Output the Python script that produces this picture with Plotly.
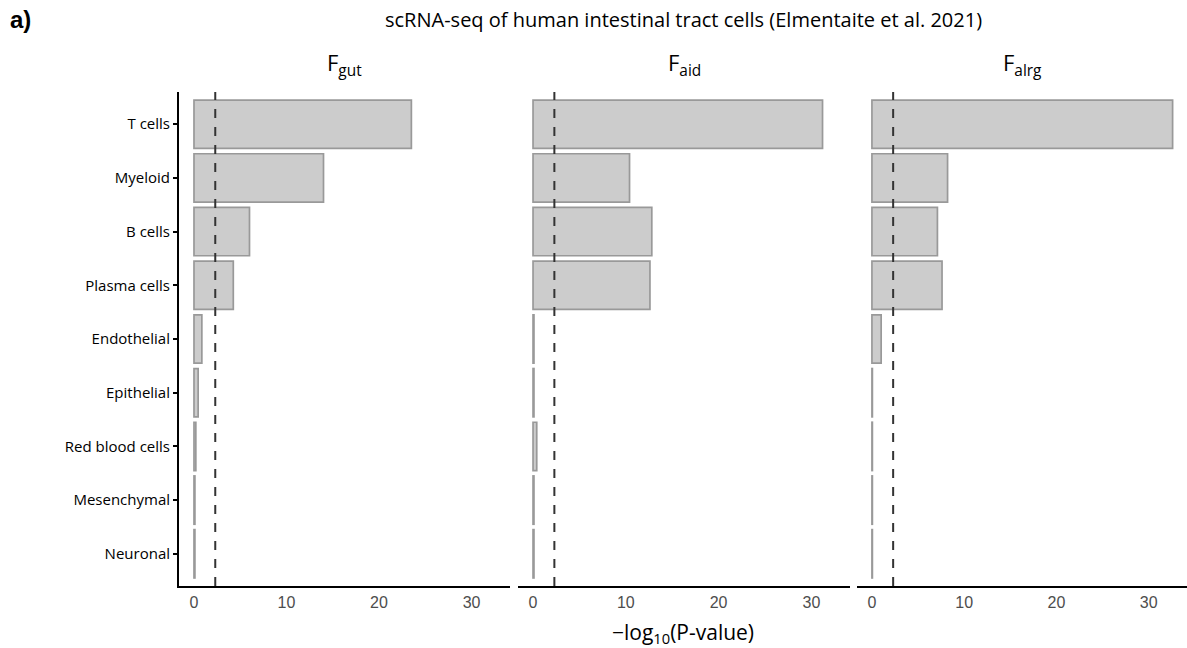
import plotly.graph_objects as go

categories = ["T cells", "Myeloid", "B cells", "Plasma cells", "Endothelial",
              "Epithelial", "Red blood cells", "Mesenchymal", "Neuronal"]
panel_titles = ["F<sub>gut</sub>", "F<sub>aid</sub>", "F<sub>alrg</sub>"]
f_gut = [23.5, 14.0, 6.0, 4.25, 0.85, 0.45, 0.2, 0.1, 0.1]
f_aid = [31.2, 10.4, 12.8, 12.6, 0.1, 0.1, 0.4, 0.1, 0.1]
f_alrg = [32.6, 8.2, 7.1, 7.6, 1.0, 0.05, 0.05, 0.05, 0.05]
threshold = 2.3
x_ticks = [0, 10, 20, 30]

W, H = 1187, 648
ML, MR, MT, MB = 179, 0, 92, 62
PW = W - ML - MR
PH = H - MT - MB

def px_x(p):
    return (p - ML) / PW

domains = [[px_x(179), px_x(510)], [px_x(518), px_x(850)], [px_x(857), px_x(1187)]]
xrange = [-1.62, 34.16]

series = [f_gut, f_aid, f_alrg]
fig = go.Figure()
TXT = "Open Sans"
for i, vals in enumerate(series):
    sfx = "" if i == 0 else str(i + 1)
    fig.add_trace(go.Bar(
        x=vals, y=categories, orientation="h", width=0.9,
        marker=dict(color="#CCCCCC", line=dict(color="#999999", width=1.7)),
        xaxis="x" + sfx, yaxis="y" + sfx, showlegend=False, hoverinfo="x+y",
    ))
    fig.add_shape(type="line", xref="x" + sfx, yref="y" + sfx + " domain",
                  x0=threshold, x1=threshold, y0=0, y1=1,
                  line=dict(color="#333333", width=2, dash="9px,9px"))
    fig.add_annotation(text=panel_titles[i], xref="paper", yref="paper",
                       x=(domains[i][0] + domains[i][1]) / 2,
                       y=1 + (MT - 64) / PH, xanchor="center", yanchor="middle",
                       showarrow=False, font=dict(family=TXT, size=22, color="black"))

    xa = dict(domain=domains[i], range=xrange, tickvals=x_ticks,
              showline=True, linecolor="black", linewidth=2, showgrid=False,
              zeroline=False, ticks="", ticklabelstandoff=1,
              tickfont=dict(family="Liberation Sans", size=16, color="#4D4D4D"),
              anchor="y" + sfx, fixedrange=True)
    ya = dict(domain=[0, 1], categoryorder="array", categoryarray=categories,
              range=[8.6, -0.6], showgrid=False, zeroline=False,
              anchor="x" + sfx, fixedrange=True)
    if i == 0:
        ya.update(showline=True, linecolor="black", linewidth=2, ticks="outside",
                  ticklen=4, tickwidth=1.5, tickcolor="black",
                  tickfont=dict(family=TXT, size=15, color="black"))
    else:
        ya.update(showline=False, showticklabels=False, ticks="")
    fig.update_layout(**{"xaxis" + sfx: xa, "yaxis" + sfx: ya})

fig.add_annotation(text="scRNA-seq of human intestinal tract cells (Elmentaite et al. 2021)",
                   xref="paper", yref="paper", x=0.5, y=1 + (MT - 20) / PH,
                   xanchor="center", yanchor="middle", showarrow=False,
                   font=dict(family=TXT, size=20, color="black"))
fig.add_annotation(text="<b>a)</b>", xref="paper", yref="paper",
                   x=px_x(8), y=1 + (MT - 20) / PH, xanchor="left", yanchor="middle",
                   showarrow=False, font=dict(family="Liberation Sans", size=24, color="black"))
fig.add_annotation(text="\u2212log<sub>10</sub>(P-value)", xref="paper", yref="paper",
                   x=0.5, y=-(633 - (H - MB)) / PH, xanchor="center", yanchor="middle",
                   showarrow=False, font=dict(family=TXT, size=21, color="black"))

fig.update_layout(width=W, height=H, margin=dict(l=ML, r=MR, t=MT, b=MB),
                  paper_bgcolor="white", plot_bgcolor="white", bargap=0.1)
fig.write_html("out.html", config={"displayModeBar": False})
